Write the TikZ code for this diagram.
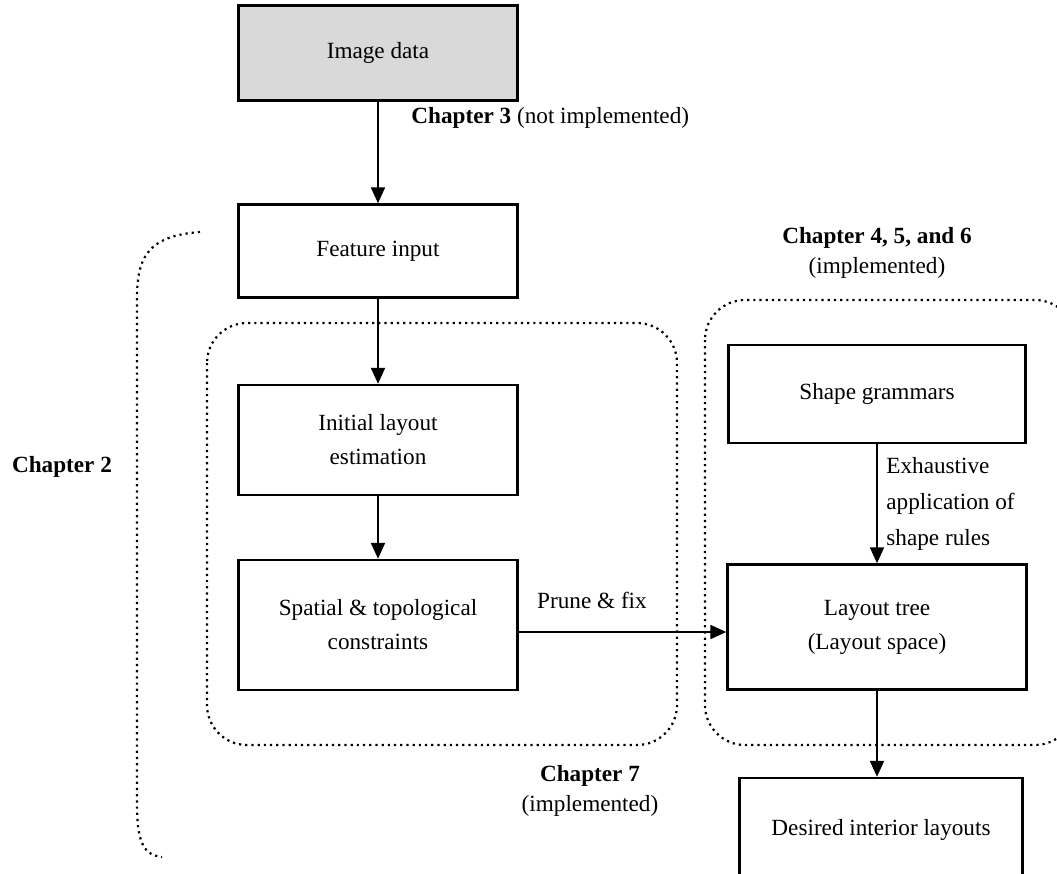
\documentclass[tikz,border=0pt]{standalone}
\usepackage{fontspec}
\setmainfont{Liberation Serif}
\usetikzlibrary{arrows.meta}

\begin{document}
\begin{tikzpicture}[x=0.5pt, y=-0.5pt,
  font=\fontsize{11.6}{17}\selectfont,
  box/.style={draw, line width=1.2pt, align=center, inner sep=0pt},
  region/.style={draw, dotted, line width=1.1pt, rounded corners=20pt},
  flow/.style={line width=1pt, -{Triangle[length=8pt, width=7pt]}},
  lbl/.style={align=center, inner sep=0pt}]
\useasboundingbox (0,0) rectangle (1057,874);
% dotted groups
\draw[region] (207,323) rectangle (677,745);
\draw[region] (705,300) rectangle (1075,745);
% boxes
\node[box, fill=gray!30, minimum width=139.5pt, minimum height=47.5pt] (img) at (378,53) {Image data};
\node[box, minimum width=139.5pt, minimum height=46.5pt] (feat) at (378,251) {Feature input};
\node[box, minimum width=139.5pt, minimum height=55pt] (init) at (378,440) {Initial layout\\estimation};
\node[box, minimum width=139.5pt, minimum height=65pt] (spat) at (378,625) {Spatial \& topological\\constraints};
\node[box, minimum width=148.5pt, minimum height=49pt] (shape) at (877,394) {Shape grammars};
\node[box, minimum width=149.5pt, minimum height=62.5pt] (tree) at (877,627) {Layout tree\\(Layout space)};
\node[box, minimum width=141.5pt, minimum height=52pt] (want) at (881,830) {Desired interior layouts};
% connectors
\draw[flow] (img) -- (feat);
\draw[flow] (feat) -- (init);
\draw[flow] (init) -- (spat);
\draw[flow] (spat.east |- 0,632) -- (tree.west |- 0,632);
\draw[flow] (shape) -- (tree);
\draw[flow] (tree) -- (tree |- want.north);
% labels
\node[lbl, anchor=west] (c3) at (411,118) {\textbf{Chapter 3} (not implemented)};
\node[lbl] (c456) at (877,253) {\textbf{Chapter 4, 5, and 6}\\[-2pt](implemented)};
\node[lbl] (c7) at (590,791) {\textbf{Chapter 7}\\[-2pt](implemented)};
\node[lbl, anchor=west, align=left] (rules) at (886,504) {Exhaustive\\[1pt]application of\\[1pt]shape rules};
\node[lbl] (prune) at (592,600) {Prune \& fix};
\node[lbl] (c2) at (62,467) {\textbf{Chapter 2}};
% brace for chapter 2
\draw[dotted, line width=1.1pt] (200,232) .. controls (145,236) and (137,260) .. (137,300) -- (137,805) .. controls (137,845) and (145,855) .. (162,857);
\end{tikzpicture}
\end{document}
